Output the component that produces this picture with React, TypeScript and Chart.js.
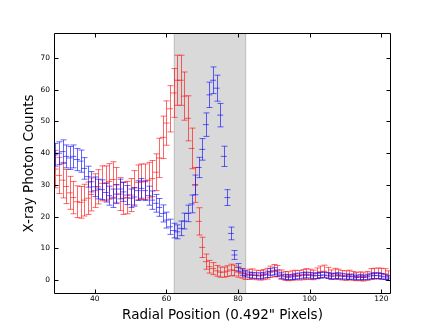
import React, { useEffect, useRef } from "react";
import { Chart, registerables } from "chart.js";

Chart.register(...registerables);

const radialPixels = [
  29, 30, 31, 32, 33, 34, 35, 36, 37, 38, 39, 40, 41, 42, 43, 44, 45, 46, 47, 48,
  49, 50, 51, 52, 53, 54, 55, 56, 57, 58, 59, 60, 61, 62, 63, 64, 65, 66, 67, 68,
  69, 70, 71, 72, 73, 74, 75, 76, 77, 78, 79, 80, 81, 82, 83, 84, 85, 86, 87, 88,
  89, 90, 91, 92, 93, 94, 95, 96, 97, 98, 99, 100, 101, 102, 103, 104, 105, 106, 107, 108,
  109, 110, 111, 112, 113, 114, 115, 116, 117, 118, 119, 120, 121, 122,
];

const redCounts = [
  35, 33, 31.5, 29.5, 27.5, 26, 24.7, 24.5, 25.2, 25.8, 27, 28.2, 29.4, 30.5, 30.5, 31.1, 31.7, 30, 27.1, 25.8,
  26, 26.8, 29.1, 30.8, 31, 31, 31.5, 32, 34, 38.5, 45, 49.5, 54, 59, 63, 63, 58, 51, 41.5, 30,
  18.5, 10.3, 5.8, 4.2, 3.6, 2.9, 2.5, 2.5, 2.8, 3.2, 3.0, 2.5, 2.1, 1.4, 1.8, 1.9, 1.6, 1.5, 1.7, 2.0,
  2.6, 3.0, 2.8, 1.7, 1.3, 1.2, 1.4, 1.6, 1.5, 1.7, 1.9, 1.8, 1.6, 2.1, 2.6, 2.8, 2.3, 1.7, 2.0, 1.8,
  1.5, 1.4, 1.6, 1.3, 1.1, 1.2, 1.0, 1.3, 1.9, 2.0, 2.1, 2.0, 1.9, 1.4,
];

const redErrors = [
  5.9, 5.7, 5.6, 5.4, 5.2, 5.1, 5, 5, 5, 5.1, 5.2, 5.3, 5.4, 5.5, 5.5, 5.6, 5.6, 5.5, 5.2, 5.1,
  5.1, 5.2, 5.4, 5.5, 5.6, 5.6, 5.6, 5.7, 5.8, 6.2, 6.7, 7, 7.3, 7.7, 7.9, 7.9, 7.6, 7.1, 6.4, 5.5,
  4.3, 3.2, 2.4, 2, 1.9, 1.7, 1.6, 1.6, 1.7, 1.8, 1.7, 1.6, 1.5, 1.2, 1.6, 1.6, 1.5, 1.5, 1.6, 1.7,
  1.8, 1.9, 1.8, 1.5, 1.4, 1.4, 1.5, 1.5, 1.5, 1.6, 1.7, 1.6, 1.5, 1.7, 1.8, 1.9, 1.7, 1.5, 1.7, 1.6,
  1.5, 1.5, 1.5, 1.4, 1.3, 1.4, 1.3, 1.4, 1.7, 1.7, 1.7, 1.7, 1.7, 1.5,
];

const blueCounts = [
  39.5, 40, 40.5, 39, 38.5, 39, 38, 37.5, 35.2, 32.6, 31, 29.4, 28.7, 28.5, 27.6, 26.6, 25.8, 27.1, 28.7, 27.8,
  26.8, 25.8, 26.2, 28.2, 28.9, 28.2, 26.6, 25.2, 24.2, 22.9, 21, 18.9, 16.8, 15.6, 15.2, 16.3, 18.6, 21, 24, 30,
  35.5, 41.2, 49, 58.4, 63, 60.5, 52, 39, 26, 14.7, 7.9, 4, 2.5, 2.0, 1.6, 1.5, 1.4, 1.3, 1.5, 1.8,
  2.5, 2.8, 2.2, 1.4, 1.0, 0.9, 1.0, 1.2, 1.3, 1.5, 1.6, 1.5, 1.3, 1.4, 1.5, 1.6, 1.4, 1.2, 1.3, 1.4,
  1.2, 1.1, 1.0, 1.1, 0.8, 0.9, 0.8, 1.0, 1.3, 1.4, 1.4, 1.2, 1.0, 0.6,
];

const blueErrors = [
  3.6, 3.6, 3.7, 3.6, 3.6, 3.6, 3.5, 3.5, 3.4, 3.3, 3.2, 3.1, 3.1, 3.1, 3, 3, 2.9, 3, 3.1, 3,
  3, 2.9, 2.9, 3.1, 3.1, 3.1, 3, 2.9, 2.8, 2.8, 2.7, 2.5, 2.4, 2.3, 2.2, 2.3, 2.5, 2.6, 2.8, 3.1,
  3.2, 3.4, 3.7, 4, 4.2, 4.1, 3.7, 3.2, 2.5, 2, 1.4, 1.2, 1, 1, 0.9, 0.9, 0.9, 0.9, 0.9, 1,
  1.1, 1.1, 1, 0.9, 0.8, 0.8, 0.8, 0.9, 0.9, 0.9, 0.9, 0.9, 0.9, 0.9, 0.9, 0.9, 0.9, 0.9, 0.9, 0.9,
  0.9, 0.8, 0.8, 0.8, 0.7, 0.8, 0.7, 0.8, 0.9, 0.9, 0.9, 0.9, 0.8, 0.7,
];

const xTickValues = [40, 60, 80, 100, 120];
const yTickValues = [0, 10, 20, 30, 40, 50, 60, 70];
const shadedRange = [62, 82.3];
const xRange = [28.6, 122.7];
const yRange = [-4.4, 77.9];
const xTitle = 'Radial Position (0.492" Pixels)';
const yTitle = "X-ray Photon Counts";

const FONT = "'DejaVu Sans', 'Liberation Sans', sans-serif";
const RED = "rgba(255,0,0,0.6)";
const BLUE = "rgba(0,0,255,0.6)";

const chartDecor = {
  id: "chartDecor",
  beforeDatasetsDraw(chart: any) {
    const { ctx, chartArea: a, scales } = chart;
    const x0 = scales.x.getPixelForValue(shadedRange[0]);
    const x1 = scales.x.getPixelForValue(shadedRange[1]);
    ctx.save();
    ctx.fillStyle = "rgba(0,0,0,0.15)";
    ctx.fillRect(x0, a.top, x1 - x0, a.bottom - a.top);
    ctx.strokeStyle = "rgba(0,0,0,0.1)";
    ctx.lineWidth = 1;
    ctx.beginPath();
    ctx.moveTo(Math.round(x0) + 0.5, a.top);
    ctx.lineTo(Math.round(x0) + 0.5, a.bottom);
    ctx.moveTo(Math.round(x1) - 0.5, a.top);
    ctx.lineTo(Math.round(x1) - 0.5, a.bottom);
    ctx.stroke();
    ctx.restore();
  },
  afterDatasetsDraw(chart: any) {
    const { ctx, chartArea: a, scales } = chart;
    const xs = scales.x;
    const ys = scales.y;
    ctx.save();
    ctx.beginPath();
    ctx.rect(a.left, a.top, a.right - a.left, a.bottom - a.top);
    ctx.clip();
    chart.data.datasets.forEach((ds: any) => {
      const errs: number[] = ds.errorValues;
      ctx.strokeStyle = ds.errorColor;
      ctx.lineWidth = 1;
      ds.data.forEach((p: any, i: number) => {
        const px = Math.round(xs.getPixelForValue(p.x)) + 0.5;
        const yt = ys.getPixelForValue(p.y + errs[i]);
        const yb = ys.getPixelForValue(p.y - errs[i]);
        ctx.beginPath();
        ctx.moveTo(px, yt);
        ctx.lineTo(px, yb);
        ctx.moveTo(px - 3, yt);
        ctx.lineTo(px + 3, yt);
        ctx.moveTo(px - 3, yb);
        ctx.lineTo(px + 3, yb);
        ctx.stroke();
      });
    });
    ctx.restore();
  },
  afterDraw(chart: any) {
    const { ctx, chartArea: a, scales } = chart;
    const L = a.left + 0.5;
    const R = a.right - 0.5;
    const T = a.top + 0.5;
    const B = a.bottom - 0.5;
    const tick = 4;
    ctx.save();
    ctx.strokeStyle = "#000";
    ctx.lineWidth = 1;
    ctx.beginPath();
    ctx.rect(L, T, R - L, B - T);
    xTickValues.forEach((v) => {
      const px = Math.round(scales.x.getPixelForValue(v)) + 0.5;
      ctx.moveTo(px, B);
      ctx.lineTo(px, B - tick);
      ctx.moveTo(px, T);
      ctx.lineTo(px, T + tick);
    });
    yTickValues.forEach((v) => {
      const py = Math.round(scales.y.getPixelForValue(v)) + 0.5;
      ctx.moveTo(L, py);
      ctx.lineTo(L + tick, py);
      ctx.moveTo(R, py);
      ctx.lineTo(R - tick, py);
    });
    ctx.stroke();
    ctx.restore();
  },
};

export default function App() {
  const canvasRef = useRef<HTMLCanvasElement | null>(null);

  useEffect(() => {
    const canvas = canvasRef.current;
    if (!canvas) return;
    const makeData = (vals: number[]) => radialPixels.map((x, i) => ({ x, y: vals[i] }));
    const chart = new Chart(canvas, {
      type: "scatter",
      data: {
        datasets: [
          {
            label: "red",
            data: makeData(redCounts),
            errorValues: redErrors,
            errorColor: RED,
            borderColor: RED,
            backgroundColor: RED,
            pointBorderColor: RED,
            pointBackgroundColor: RED,
            pointStyle: "line",
            pointRadius: 3,
            pointBorderWidth: 1,
            showLine: false,
          } as any,
          {
            label: "blue",
            data: makeData(blueCounts),
            errorValues: blueErrors,
            errorColor: BLUE,
            borderColor: BLUE,
            backgroundColor: BLUE,
            pointBorderColor: BLUE,
            pointBackgroundColor: BLUE,
            pointStyle: "line",
            pointRadius: 3,
            pointBorderWidth: 1,
            showLine: false,
          } as any,
        ],
      },
      options: {
        animation: false,
        responsive: false,
        events: [],
        layout: { padding: { left: 0, right: 45, top: 33, bottom: 0 } },
        plugins: { legend: { display: false }, tooltip: { enabled: false } },
        scales: {
          x: {
            type: "linear",
            min: xRange[0],
            max: xRange[1],
            afterFit: (s: any) => {
              s.height = 33;
            },
            afterBuildTicks: (s: any) => {
              s.ticks = xTickValues.map((v) => ({ value: v }));
            },
            grid: { display: false, drawTicks: false },
            border: { display: false },
            ticks: { font: { family: FONT, size: 7.5 }, color: "#000", padding: 1, maxRotation: 0 },
            title: {
              display: true,
              text: xTitle,
              font: { family: FONT, size: 13.5 },
              color: "#000",
              padding: { top: 0, bottom: 3 },
            },
          },
          y: {
            type: "linear",
            min: yRange[0],
            max: yRange[1],
            afterFit: (s: any) => {
              s.width = 54;
            },
            afterBuildTicks: (s: any) => {
              s.ticks = yTickValues.map((v) => ({ value: v }));
            },
            grid: { display: false, drawTicks: false },
            border: { display: false },
            ticks: { font: { family: FONT, size: 7.5 }, color: "#000", padding: 4 },
            title: {
              display: true,
              text: yTitle,
              font: { family: FONT, size: 13.5 },
              color: "#000",
              padding: { top: 21, bottom: 0 },
            },
          },
        },
      } as any,
      plugins: [chartDecor],
    });
    return () => chart.destroy();
  }, []);

  return (
    <div style={{ position: "absolute", left: 0, top: 0, width: 436, height: 327, background: "#fff" }}>
      <canvas ref={canvasRef} width={436} height={327} style={{ display: "block" }} />
    </div>
  );
}
